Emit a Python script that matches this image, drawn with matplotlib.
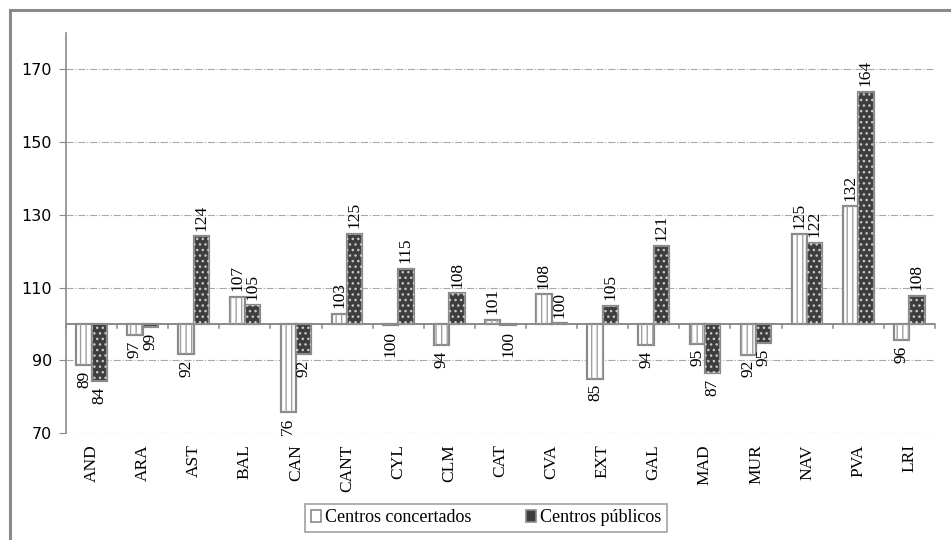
import numpy as np
import matplotlib.pyplot as plt
from matplotlib.patches import Rectangle

# regional index values (Spain = 100)
regions = ["AND", "ARA", "AST", "BAL", "CAN", "CANT", "CYL", "CLM", "CAT",
           "CVA", "EXT", "GAL", "MAD", "MUR", "NAV", "PVA", "LRI"]
concertados = [88.6, 97.0, 91.8, 107.4, 75.8, 102.8, 99.6, 94.1, 101.2,
               108.1, 85.0, 94.1, 94.6, 91.6, 124.6, 132.4, 95.6]
publicos = [84.2, 99.1, 124.1, 105.1, 91.8, 124.8, 115.1, 108.4, 99.7,
            100.2, 105.0, 121.4, 86.6, 94.8, 122.3, 163.9, 107.8]
base_value = 100
series_names = ["Centros concertados", "Centros públicos"]

serif = ["Liberation Serif", "DejaVu Serif"]
edge = "#8a8a8a"

fig = plt.figure(figsize=(9.51, 5.40), dpi=100)
ax = fig.add_axes([0.0694, 0.198, 0.9136, 0.741])

# outer frame, partly cut off on the right and bottom
fig.patches.append(Rectangle((10 / 951, -0.1), 1.2, 1.1 - 10 / 540,
                             transform=fig.transFigure, fill=False,
                             edgecolor=edge, linewidth=2.2))

x = np.arange(len(regions))
w = 0.3
conc = np.array(concertados) - base_value
pub = np.array(publicos) - base_value

ax.bar(x - w / 2, conc, w, bottom=base_value, color="white",
       edgecolor=edge, linewidth=1.6, zorder=3)
ax.bar(x - w / 2, conc, w, bottom=base_value, color="none",
       edgecolor="#a0a0a0", linewidth=0, hatch="|||", zorder=3)
ax.bar(x + w / 2, pub, w, bottom=base_value, color="#3d3d3d",
       edgecolor=edge, linewidth=1.6, zorder=3)
ax.bar(x + w / 2, pub, w, bottom=base_value, color="none",
       edgecolor="#c8c8c8", linewidth=0, hatch="...", zorder=3)

# value labels at the outer end of each bar
for xs, vals in ((x - w / 2, concertados), (x + w / 2, publicos)):
    for xi, v in zip(xs, vals):
        up = v >= base_value
        ax.annotate(f"{round(v):d}", (xi, v), xytext=(0, 4 if up else -4),
                    textcoords="offset points", rotation=90, ha="center",
                    va="bottom" if up else "top", fontsize=12.5,
                    family=serif, zorder=4)

ax.set_ylim(70, 180)
ax.set_xlim(-0.5, len(regions) - 0.5)
ax.set_yticks([70, 90, 110, 130, 150, 170])
ax.yaxis.grid(True, linestyle="-.", color="#a8a8a8", linewidth=0.8)
ax.set_axisbelow(True)
ax.tick_params(axis="y", labelsize=11.5, length=5, color=edge, pad=5)

for s in ["top", "right", "bottom"]:
    ax.spines[s].set_visible(False)
ax.spines["left"].set_color(edge)
ax.spines["left"].set_linewidth(1.2)

# category axis drawn along the 100 line
ax.axhline(base_value, color=edge, linewidth=1.4, zorder=2)
for b in np.arange(len(regions) + 1) - 0.5:
    ax.plot([b, b], [base_value, base_value - 1.2], color=edge,
            linewidth=1.1, zorder=2, clip_on=False)
ax.set_xticks(x)
ax.set_xticklabels(regions, rotation=90, fontsize=12.5, family=serif)
ax.tick_params(axis="x", length=0, pad=8)

handles = [Rectangle((0, 0), 1, 1, facecolor="white", edgecolor=edge,
                     hatch="|", linewidth=1.2),
           Rectangle((0, 0), 1, 1, facecolor="#3d3d3d", edgecolor=edge,
                     linewidth=1.2)]
leg = fig.legend(handles, series_names, loc="center",
                 bbox_to_anchor=(486 / 951, 1 - 518 / 540), ncol=2,
                 frameon=True, fancybox=False, handlelength=0.6,
                 handleheight=0.6, handletextpad=0.2, columnspacing=3.0,
                 borderpad=0.3, borderaxespad=0, prop={"family": serif,
                                                       "size": 13})
leg.get_frame().set_edgecolor(edge)
leg.get_frame().set_linewidth(1.2)

fig.savefig("out.png", dpi=100)
